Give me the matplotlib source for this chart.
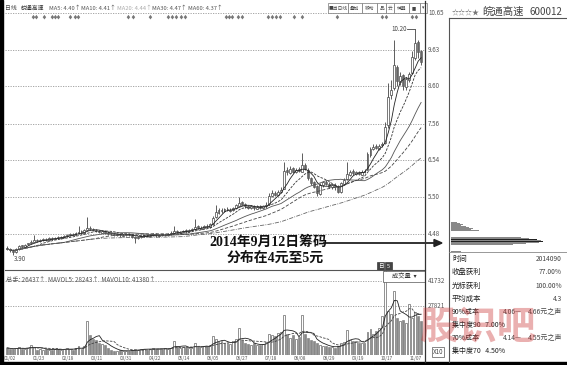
import numpy as np
import pandas as pd
import matplotlib.pyplot as plt
from matplotlib.patches import Rectangle

plt.rcParams['font.family'] = ['Noto Sans CJK SC', 'DejaVu Sans']

# ---------------- dane ----------------
opens = [4.10, 4.06, 4.02, 3.99, 4.06, 4.16, 4.12, 4.19, 4.22, 4.27,
         4.31, 4.28, 4.30, 4.34, 4.31, 4.38, 4.35, 4.39, 4.36, 4.40,
         4.42, 4.44, 4.49, 4.46, 4.50, 4.55, 4.52, 4.58, 4.66, 4.63,
         4.59, 4.57, 4.52, 4.56, 4.52, 4.50, 4.48, 4.45, 4.48, 4.43,
         4.45, 4.49, 4.46, 4.41, 4.36, 4.40, 4.42, 4.45, 4.42, 4.45,
         4.48, 4.43, 4.47, 4.44, 4.45, 4.48, 4.52, 4.57, 4.52, 4.54,
         4.58, 4.55, 4.59, 4.62, 4.69, 4.63, 4.66, 4.71, 4.68, 4.76,
         4.95, 5.08, 5.16, 5.11, 5.19, 5.13, 5.15, 5.21, 5.27, 5.36,
         5.31, 5.27, 5.21, 5.26, 5.19, 5.25, 5.20, 5.25, 5.32, 5.54,
         5.63, 5.57, 5.64, 5.75, 6.28, 6.18, 6.32, 6.21, 6.29, 6.22,
         6.42, 6.28, 6.04, 5.92, 5.82, 5.60, 5.84, 5.94, 5.89, 5.78,
         5.86, 5.80, 5.64, 5.88, 6.02, 6.13, 6.24, 6.16, 6.21, 6.14,
         6.21, 6.28, 6.68, 6.86, 6.95, 6.86, 6.96, 7.02, 7.52, 8.35,
         8.55, 9.15, 8.72, 8.92, 8.58, 8.78, 8.98, 9.40, 9.85, 9.58]
highs = [4.14, 4.08, 4.05, 4.08, 4.18, 4.18, 4.20, 4.24, 4.30, 4.45,
         4.33, 4.34, 4.36, 4.36, 4.40, 4.40, 4.41, 4.42, 4.43, 4.46,
         4.48, 4.52, 4.51, 4.54, 4.70, 4.58, 4.62, 4.95, 4.70, 4.66,
         4.61, 4.60, 4.58, 4.58, 4.55, 4.53, 4.50, 4.50, 4.51, 4.49,
         4.52, 4.51, 4.48, 4.43, 4.43, 4.45, 4.47, 4.48, 4.48, 4.50,
         4.50, 4.49, 4.49, 4.48, 4.51, 4.56, 4.70, 4.60, 4.57, 4.60,
         4.61, 4.63, 4.65, 4.90, 4.72, 4.69, 4.74, 4.75, 4.79, 4.98,
         5.30, 5.20, 5.20, 5.22, 5.24, 5.20, 5.24, 5.32, 5.52, 5.40,
         5.35, 5.30, 5.30, 5.30, 5.28, 5.28, 5.30, 5.36, 5.62, 5.70,
         5.68, 5.70, 5.78, 6.49, 6.36, 6.38, 6.36, 6.33, 6.34, 6.74,
         6.46, 6.32, 6.08, 5.96, 5.86, 5.90, 5.96, 5.98, 5.93, 5.88,
         5.90, 5.84, 5.94, 6.05, 6.49, 6.28, 6.30, 6.25, 6.25, 6.26,
         6.30, 6.78, 6.92, 6.98, 6.98, 7.00, 7.06, 7.60, 8.70, 8.78,
         9.90, 9.20, 9.00, 8.96, 8.86, 9.00, 9.60, 10.20, 9.90, 9.62]
lows = [4.02, 3.97, 3.90, 3.96, 4.03, 4.09, 4.10, 4.16, 4.20, 4.25,
        4.25, 4.26, 4.28, 4.28, 4.29, 4.32, 4.33, 4.34, 4.34, 4.38,
        4.40, 4.42, 4.44, 4.44, 4.48, 4.49, 4.50, 4.56, 4.58, 4.55,
        4.53, 4.50, 4.50, 4.48, 4.46, 4.44, 4.42, 4.42, 4.41, 4.40,
        4.43, 4.42, 4.36, 4.23, 4.33, 4.38, 4.40, 4.40, 4.40, 4.42,
        4.41, 4.41, 4.42, 4.42, 4.43, 4.46, 4.50, 4.50, 4.50, 4.52,
        4.52, 4.53, 4.57, 4.60, 4.61, 4.61, 4.64, 4.65, 4.66, 4.74,
        4.93, 5.05, 5.08, 5.09, 5.11, 5.10, 5.13, 5.19, 5.25, 5.28,
        5.22, 5.18, 5.18, 5.16, 5.17, 5.17, 5.18, 5.22, 5.30, 5.50,
        5.54, 5.55, 5.62, 5.73, 6.14, 6.15, 6.18, 6.18, 6.20, 6.20,
        6.26, 6.00, 5.86, 5.76, 5.55, 5.58, 5.80, 5.84, 5.76, 5.75,
        5.72, 5.62, 5.62, 5.86, 6.00, 6.10, 6.14, 6.12, 6.12, 6.12,
        6.18, 6.26, 6.62, 6.82, 6.84, 6.82, 6.92, 7.00, 7.45, 8.25,
        8.50, 8.60, 8.65, 8.50, 8.50, 8.72, 8.95, 9.35, 9.40, 9.20]
closes = [4.06, 4.02, 3.98, 4.05, 4.15, 4.12, 4.18, 4.22, 4.26, 4.30,
          4.28, 4.31, 4.33, 4.30, 4.37, 4.35, 4.38, 4.36, 4.40, 4.42,
          4.45, 4.48, 4.46, 4.50, 4.54, 4.52, 4.58, 4.65, 4.62, 4.58,
          4.56, 4.53, 4.55, 4.51, 4.49, 4.47, 4.45, 4.47, 4.44, 4.46,
          4.48, 4.45, 4.40, 4.37, 4.40, 4.42, 4.44, 4.43, 4.45, 4.47,
          4.44, 4.46, 4.45, 4.45, 4.48, 4.52, 4.56, 4.53, 4.54, 4.57,
          4.55, 4.59, 4.62, 4.68, 4.64, 4.66, 4.70, 4.68, 4.75, 4.92,
          5.10, 5.15, 5.12, 5.18, 5.14, 5.16, 5.20, 5.28, 5.35, 5.30,
          5.26, 5.22, 5.25, 5.20, 5.24, 5.21, 5.26, 5.30, 5.55, 5.62,
          5.58, 5.65, 5.70, 6.25, 6.20, 6.30, 6.22, 6.28, 6.24, 6.40,
          6.30, 6.05, 5.90, 5.80, 5.62, 5.85, 5.92, 5.88, 5.80, 5.84,
          5.78, 5.65, 5.90, 6.00, 6.15, 6.22, 6.18, 6.20, 6.16, 6.22,
          6.25, 6.70, 6.85, 6.92, 6.88, 6.95, 7.00, 7.47, 8.30, 8.50,
          9.20, 8.75, 8.90, 8.60, 8.80, 8.95, 9.42, 9.80, 9.55, 9.28]
volumes = [4000, 3500, 3200, 3800, 4500, 3600, 3300, 4200, 5800, 4600,
           3100, 3400, 2900, 3600, 3000, 2800, 3500, 3200, 2700, 3300,
           3800, 3400, 3000, 3900, 5200, 3600, 4800, 19000, 11000, 9000,
           8500, 7000, 6200, 5600, 4000, 2600, 2400, 2200, 2600, 2300,
           2500, 2200, 2800, 3400, 3000, 3300, 3600, 3100, 3500, 3800,
           3200, 3600, 3400, 3900, 3300, 4200, 8000, 4600, 4000, 4400,
           4600, 4100, 3800, 6500, 4300, 4500, 4800, 5000, 5500, 10500,
           9000, 7500, 8000, 6500, 7000, 6000, 7800, 9000, 15000, 8500,
           7000, 6200, 5600, 6500, 5800, 5400, 6000, 7500, 12000, 11000,
           10500, 12500, 13000, 22500, 12000, 9500, 11000, 9000, 10000, 22500,
           12000, 9800, 8500, 8000, 7000, 5500, 4800, 5200, 4500, 4600,
           4200, 5000, 6500, 7500, 14000, 8500, 7800, 8000, 6500, 7000,
           7000, 13000, 14500, 12000, 13500, 15000, 22000, 48000, 25000, 23000,
           36000, 21000, 19000, 20000, 18000, 29000, 21000, 24000, 22000, 19000]

price_levels = [10.65, 9.63, 8.60, 7.56, 6.54, 5.50, 4.48]
vol_levels = [41732, 27821]
date_labels = ['01/02', '01/23', '02/18', '03/11', '03/31', '04/22', '05/14', '06/05',
               '06/27', '07/18', '08/08', '08/29', '09/19', '10/17', '11/07']

chip_prices = [4.81, 4.78, 4.75, 4.72, 4.69, 4.66, 4.63, 4.60, 4.57, 4.54, 4.51,
               4.48, 4.45, 4.42, 4.39, 4.36, 4.33, 4.30, 4.27, 4.24, 4.21, 4.18,
               4.15, 4.12, 4.09, 4.06, 4.03, 4.00]
chip_amount = [6, 9, 12, 10, 15, 18, 22, 20, 28, 35, 42, 48, 55, 62, 70, 78,
               86, 90, 92, 88, 75, 62, 48, 38, 30, 22, 16, 10]
chip_dark = [4.45, 4.33, 4.27]

ma_periods = [5, 10, 20, 30, 60]

# ---------------- rysunek ----------------
W, H = 567, 365
fig = plt.figure(figsize=(W / 100, H / 100), dpi=100)
fig.patch.set_facecolor('white')


def box(x0, y0, x1, y1):
    return [x0 / W, 1 - y1 / H, (x1 - x0) / W, (y1 - y0) / H]


n = len(closes)
x = np.arange(n)
df = pd.DataFrame({'o': opens, 'h': highs, 'l': lows, 'c': closes, 'v': volumes})
up = df['c'] >= df['o']

# wykres cen
ax = fig.add_axes(box(5, 3, 425, 270))
ax.set_xlim(-0.67, 140.3)
ax.set_ylim(3.475, 10.93)
ax.axis('off')
for p in price_levels:
    ax.axhline(p, color='#999999', lw=0.6, ls=(0, (1.5, 1.5)), zorder=0)
    fig.text(428 / W, 1 - (13 + (10.65 - p) / 6.17 * 221) / H, '%.2f' % p,
             fontsize=4.5, color='#555555', va='center', ha='left')

ax.vlines(x, df['l'], df['h'], color='#444444', lw=0.6, zorder=2)
body = (df['c'] - df['o']).abs().clip(lower=0.015)
bottom = df[['c', 'o']].min(axis=1)
ax.bar(x[up], body[up], bottom=bottom[up], width=0.65, facecolor='white',
       edgecolor='#444444', lw=0.5, zorder=3)
ax.bar(x[~up], body[~up], bottom=bottom[~up], width=0.65, facecolor='#666666',
       edgecolor='#555555', lw=0.4, zorder=3)

ma_styles = [('#222222', '-'), ('#333333', (0, (3, 1.5))), ('#555555', '-'),
             ('#444444', (0, (4, 2))), ('#666666', (0, (5, 1.5, 1, 1.5)))]
for per, (col, ls) in zip(ma_periods, ma_styles):
    ax.plot(x, df['c'].rolling(per, min_periods=1).mean(), color=col, lw=0.6, ls=ls, zorder=4)

ax.text(134.3, 10.20, '10.20', fontsize=4.5, color='#444444', ha='right', va='center')
ax.plot([134.4, 137], [10.20, 10.20], color='#444444', lw=0.6)
ax.text(2.3, 3.88, '3.90', fontsize=4.5, color='#444444', ha='left', va='top')

# znaczniki informacji
marks = [33, 36, 44, 52, 55, 58, 70, 75, 78, 128, 133, 150, 168, 172, 176, 181, 185,
         226, 229, 232, 238, 242, 268, 272, 276, 280, 294, 302, 337, 382, 386, 412, 416]
for m in marks:
    fig.text(m / W, 1 - 17 / H, '♦', fontsize=3.5, color='#777777', ha='center', va='center')

# tytul wykresu cen
head = [(5, '日线', '#444444'), (21, '皖通高速', '#333333'), (49, 'MA5: 4.40↑', '#555555'),
        (81, 'MA10: 4.41↑', '#555555'), (117, 'MA20: 4.44↑', '#aaaaaa'),
        (152, 'MA30: 4.47↑', '#555555'), (188, 'MA60: 4.37↑', '#555555')]
for hx, t, c in head:
    fig.text(hx / W, 1 - 8 / H, t, fontsize=4.2, color=c, va='center', ha='left')

# pasek narzedzi
tools = [(328, 348, '■当日线'), (348, 362, '叠加'), (362, 377, '移动'), (377, 386, '品'),
         (386, 394, '云'), (394, 409, '神器'), (409, 420, '▮▮'), (420, 427, '▾')]
for a, b, t in tools:
    fig.patches.append(Rectangle((a / W, 1 - 13 / H), (b - a) / W, 10 / H, transform=fig.transFigure,
                                 facecolor='white', edgecolor='#777777', lw=0.5))
    fig.text((a + b) / 2 / W, 1 - 8 / H, t, fontsize=3.4, color='#444444', ha='center', va='center')

# adnotacja
serif = ['Liberation Serif', 'Noto Sans CJK SC']
fig.text(268 / W, 1 - 242 / H, '2014年9月12日筹码', fontsize=10, fontweight='bold',
         family=serif, ha='center', va='center', color='#111111')
fig.text(275 / W, 1 - 258 / H, '分布在4元至5元', fontsize=10, fontweight='bold',
         family=serif, ha='center', va='center', color='#111111')
fig.add_artist(plt.Line2D([324 / W, 436 / W], [1 - 243 / H, 1 - 243 / H], color='#222222', lw=1.3))
fig.add_artist(plt.Polygon([[434 / W, 1 - 239.5 / H], [442 / W, 1 - 243 / H], [434 / W, 1 - 246.5 / H]],
                           closed=True, color='#222222', transform=fig.transFigure))

# wolumen
axv = fig.add_axes(box(5, 270, 425, 355))
axv.set_xlim(-0.67, 140.3)
axv.set_ylim(0, 47935)
axv.axis('off')
for v in vol_levels:
    axv.axhline(v, color='#999999', lw=0.6, ls=(0, (1.5, 1.5)), zorder=0)
    fig.text(428 / W, 1 - (355 - v / 47935 * 85) / H, str(v), fontsize=4.5,
             color='#555555', va='center', ha='left')
axv.bar(x[up], df['v'][up], width=0.65, facecolor='white', edgecolor='#666666', lw=0.5)
axv.bar(x[~up], df['v'][~up], width=0.65, facecolor='#888888', edgecolor='#777777', lw=0.4)
axv.plot(x, df['v'].rolling(5, min_periods=1).mean(), color='#222222', lw=0.6)
axv.plot(x, df['v'].rolling(10, min_periods=1).mean(), color='#444444', lw=0.6, ls=(0, (3, 1.5)))

fig.text(6 / W, 1 - 280 / H, '总手: 26437↑  MAVOL5: 28243↑  MAVOL10: 41380↑', fontsize=4.5,
         color='#555555', va='center', ha='left')
fig.patches.append(Rectangle((383 / W, 1 - 282 / H), 42 / W, 11 / H, transform=fig.transFigure,
                             facecolor='white', edgecolor='#555555', lw=0.5))
fig.text(404 / W, 1 - 276.5 / H, '成交量  ▾', fontsize=4.5, color='#333333', ha='center', va='center')
for bx, t in [(377, '日'), (385, '5')]:
    fig.patches.append(Rectangle((bx / W, 1 - 270 / H), 7 / W, 8 / H, transform=fig.transFigure,
                                 facecolor='#444444', edgecolor='#222222', lw=0.4))
    fig.text((bx + 3.5) / W, 1 - 266 / H, t, fontsize=4, color='white', ha='center', va='center')
fig.text(433 / W, 1 - 352 / H, 'X10', fontsize=4.5, color='#444444', ha='left', va='center',
         bbox=dict(boxstyle='square,pad=0.15', fc='white', ec='#555555', lw=0.5))

for k, lab in enumerate(date_labels):
    px = 10 + k * 29.0
    fig.text(px / W, 1 - 358.5 / H, lab, fontsize=3.4, color='#555555', ha='center', va='center')

# linie ramek
fig.add_artist(plt.Line2D([5 / W, 425 / W], [1 - 270 / H, 1 - 270 / H], color='#555555', lw=0.8))
fig.add_artist(plt.Line2D([425 / W, 425 / W], [1 - 1 / H, 1 - 362 / H], color='#333333', lw=0.9))
fig.add_artist(plt.Line2D([449 / W, 449 / W], [1 - 18 / H, 1 - 362 / H], color='#555555', lw=0.8))
fig.add_artist(plt.Line2D([449 / W, 567 / W], [1 - 18 / H, 1 - 18 / H], color='#555555', lw=0.8))
fig.add_artist(plt.Line2D([449 / W, 567 / W], [1 - 252 / H, 1 - 252 / H], color='#888888', lw=0.6))
fig.patches.append(Rectangle((0, 0), 3 / W, 1, transform=fig.transFigure, color='black'))
fig.patches.append(Rectangle((0, 0), 1, 3 / H, transform=fig.transFigure, color='black'))

# rozklad kapitalu (chip distribution)
axc = fig.add_axes(box(450, 3, 567, 270))
axc.set_ylim(3.475, 10.93)
axc.set_xlim(0, 117)
axc.axis('off')
cols = ['#222222' if p in chip_dark else '#888888' for p in chip_prices]
axc.barh(chip_prices, chip_amount, height=0.018, color=cols, left=1)

fig.text(452 / W, 1 - 12 / H, '☆☆☆★', fontsize=5, color='#777777', ha='left', va='center')
fig.text(482 / W, 1 - 12 / H, '皖通高速', fontsize=7.5, color='#444444', ha='left', va='center')
fig.text(562 / W, 1 - 12 / H, '600012', fontsize=7, color='#444444', ha='right', va='center')

rows = [('时间', '2014090'), ('收盘获利', '77.00%'), ('光标获利', '100.00%'), ('平均成本', '4.3')]
for k, (a, b) in enumerate(rows):
    yy = 1 - (259 + k * 13.3) / H
    fig.text(452 / W, yy, a, fontsize=5.3, color='#222222', ha='left', va='center')
    fig.text(562 / W, yy, b, fontsize=4.8, color='#444444', ha='right', va='center')
fig.text(452 / W, 1 - 312 / H, '90%成本', fontsize=5.0, color='#222222', ha='left', va='center')
fig.text(503 / W, 1 - 312 / H, '4.06—', fontsize=4.8, color='#444444', ha='left', va='center')
fig.text(562 / W, 1 - 312 / H, '4.66元之声', fontsize=5.0, color='#444444', ha='right', va='center')
fig.text(452 / W, 1 - 325 / H, '集中度90   7.00%', fontsize=5.0, color='#222222', ha='left', va='center')
fig.text(452 / W, 1 - 338 / H, '70%成本', fontsize=5.0, color='#222222', ha='left', va='center')
fig.text(503 / W, 1 - 338 / H, '4.14—', fontsize=4.8, color='#444444', ha='left', va='center')
fig.text(562 / W, 1 - 338 / H, '4.55元之声', fontsize=5.0, color='#444444', ha='right', va='center')
fig.text(452 / W, 1 - 351 / H, '集中度70   4.50%', fontsize=5.0, color='#222222', ha='left', va='center')

# znak wodny
fig.text(478 / W, 1 - 327 / H, '股识吧', fontsize=28, color='#cc3a3a', alpha=0.4,
         ha='center', va='center', fontweight='bold')

fig.savefig('out.png', dpi=100, facecolor='white')
